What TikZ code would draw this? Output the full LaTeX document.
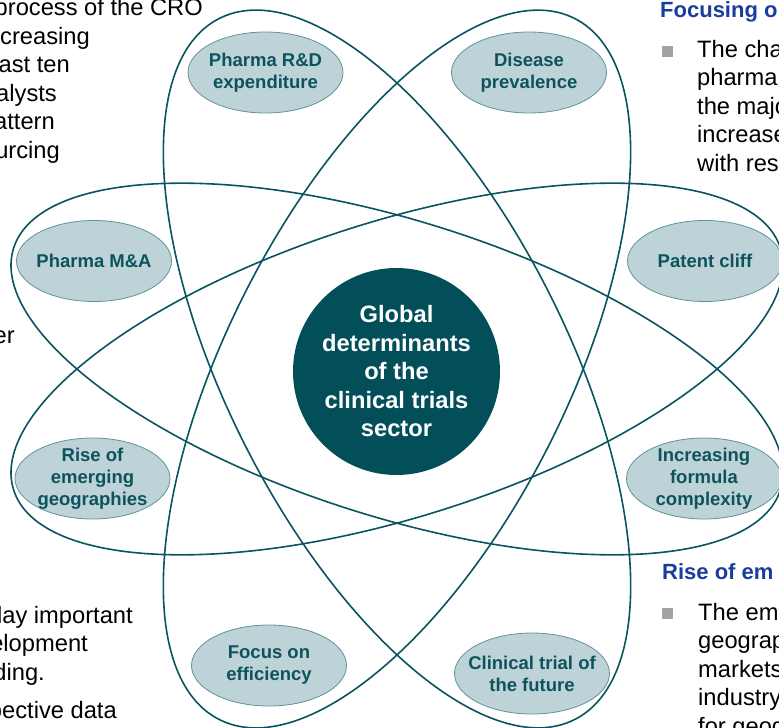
\documentclass[tikz,border=0pt]{standalone}
\usepackage{fontspec}
\setmainfont{Liberation Sans}
\usetikzlibrary{shapes.geometric}
\definecolor{orbitc}{HTML}{08545F}
\definecolor{hubc}{HTML}{024F5A}
\definecolor{factorfill}{HTML}{BDD3D7}
\definecolor{factorborder}{HTML}{5F9399}
\definecolor{factortxt}{HTML}{0D535E}
\definecolor{headblue}{HTML}{1A3C9C}
\definecolor{bulletgray}{HTML}{A3A3A3}
\begin{document}
\begin{tikzpicture}[x=1pt,y=-1pt,
  orbit/.style={draw=orbitc, line width=1.6pt},
  factor/.style={ellipse, draw=factorborder, fill=factorfill, line width=0.8pt,
    minimum width=155pt, minimum height=81pt, inner sep=0pt},
  factortext/.style={align=center, text=factortxt, inner sep=0pt,
    font=\fontsize{18.5}{22}\selectfont\bfseries},
  hub/.style={circle, fill=hubc, minimum size=207pt, inner sep=0pt, text=white,
    align=center, font=\fontsize{23.7}{28.5}\selectfont\bfseries},
  bodyl/.style={font=\fontsize{23.7}{28.5}\selectfont, inner sep=0pt, anchor=base east},
  bodyr/.style={font=\fontsize{23.7}{28.5}\selectfont, inner sep=0pt, anchor=base west},
  heading/.style={font=\fontsize{22}{26}\selectfont\bfseries, text=headblue,
    inner sep=0pt, anchor=base west},
  bulletsq/.style={rectangle, fill=bulletgray, minimum size=11pt, inner sep=0pt}
]
\useasboundingbox (0,0) rectangle (779,728);
\clip (0,0) rectangle (779,728);

% background slide text (left, clipped)
\node[bodyl] (l1) at (203,15) {process of the CRO};
\node[bodyl] (l2) at (90,44) {creasing};
\node[bodyl] (l3) at (70,72.5) {ast ten};
\node[bodyl] (l4) at (57,101) {alysts};
\node[bodyl] (l5) at (55,129.5) {attern};
\node[bodyl] (l6) at (60,158) {urcing};
\node[bodyl] (l7) at (15,343) {er};
\node[bodyl] (l8) at (133,623) {lay important};
\node[bodyl] (l9) at (88,651.5) {elopment};
\node[bodyl] (l10) at (45,680) {ding.};
\node[bodyl] (l11) at (117,718) {pective data};

% background slide text (right, clipped)
\node[heading] (h1) at (660,17) {Focusing o};
\node[bulletsq] (b1) at (667.5,51.5) {};
\node[bodyr] (r1) at (697,57) {The cha};
\node[bodyr] (r2) at (697,85.5) {pharma};
\node[bodyr] (r3) at (697,114) {the majo};
\node[bodyr] (r4) at (697,142.5) {increase};
\node[bodyr] (r5) at (697,171) {with res};

\node[heading] (h2) at (662,579) {Rise of em};
\node[bulletsq] (b2) at (667.5,613.5) {};
\node[bodyr] (s1) at (698,620) {The em};
\node[bodyr] (s2) at (698,648.5) {geograp};
\node[bodyr] (s3) at (698,677) {markets};
\node[bodyr] (s4) at (698,705.5) {industry};
\node[bodyr] (s5) at (698,734) {for geog};

% orbits
\coordinate (c) at (397,369);
\draw[orbit, rotate around={-17.5:(c)}] (c) ellipse [x radius=402pt, y radius=148pt];
\draw[orbit, rotate around={17.5:(c)}] (c) ellipse [x radius=402pt, y radius=148pt];
\draw[orbit, rotate around={-63.1:(c)}] (c) ellipse [x radius=393pt, y radius=170pt];
\draw[orbit, rotate around={63.1:(c)}] (c) ellipse [x radius=393pt, y radius=170pt];

% hub
\node[hub] (hub) at (396.5,371.5) {Global\\determinants\\of the\\clinical trials\\sector};

% factors
\node[factor] (rnd) at (265.5,72.5) {};
\node[factortext] (rndt) at (rnd) {Pharma R\&D\\expenditure};
\node[factor] (dis) at (529,72.5) {};
\node[factortext] (dist) at (dis) {Disease\\prevalence};
\node[factor] (mna) at (94,261) {};
\node[factortext] (mnat) at (mna) {Pharma M\&A};
\node[factor] (pat) at (705,261) {};
\node[factortext] (patt) at (pat) {Patent cliff};
\node[factor] (geo) at (92.5,478.5) {};
\node[factortext] (geot) at (geo) {Rise of\\emerging\\geographies};
\node[factor] (frm) at (704,478.5) {};
\node[factortext] (frmt) at (frm) {Increasing\\formula\\complexity};
\node[factor] (eff) at (269,665.5) {};
\node[factortext] (efft) at (eff) {Focus on\\efficiency};
\node[factor] (fut) at (532,673.5) {};
\node[factortext] (futt) at (fut) {Clinical trial of\\the future};
\end{tikzpicture}
\end{document}
